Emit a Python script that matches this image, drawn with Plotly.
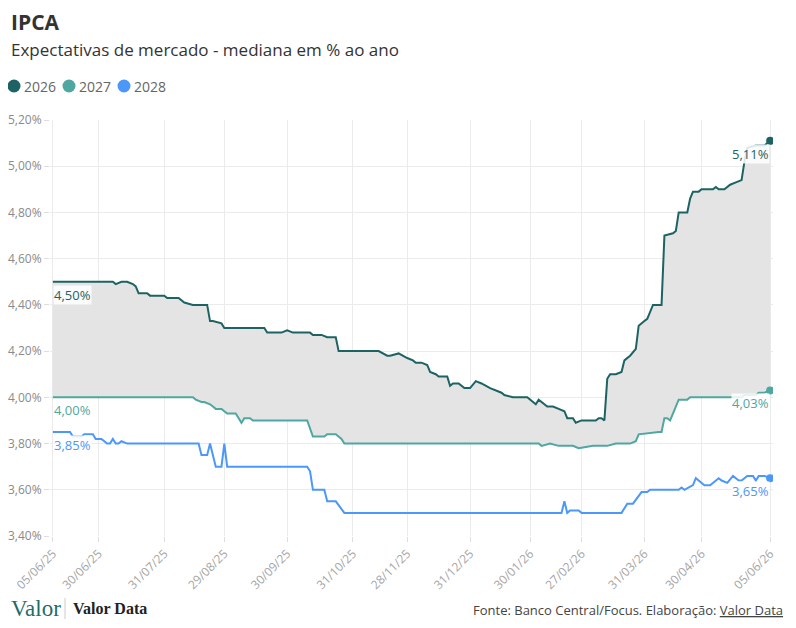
import datetime as dt
import plotly.graph_objects as go

# --- dados (mediana Focus, % a.a.) ---
D2026 = ["2025-06-05", "2025-07-07", "2025-07-08", "2025-07-10", "2025-07-14", "2025-07-16", "2025-07-17",
         "2025-07-18", "2025-07-23", "2025-07-24", "2025-07-30", "2025-07-31", "2025-08-01", "2025-08-07",
         "2025-08-11", "2025-08-14", "2025-08-21", "2025-08-22", "2025-08-25", "2025-08-28", "2025-08-29",
         "2025-09-18", "2025-09-19", "2025-09-26", "2025-09-30", "2025-10-02", "2025-10-10", "2025-10-13",
         "2025-10-16", "2025-10-20", "2025-10-23", "2025-10-24", "2025-11-13", "2025-11-18", "2025-11-19",
         "2025-11-25", "2025-11-28", "2025-12-02", "2025-12-03", "2025-12-05", "2025-12-09", "2025-12-10",
         "2025-12-12", "2025-12-15", "2025-12-18", "2025-12-19", "2025-12-22", "2025-12-24", "2025-12-29",
         "2025-12-31", "2026-01-05", "2026-01-07", "2026-01-12", "2026-01-14", "2026-01-16", "2026-01-19",
         "2026-01-22", "2026-01-29", "2026-02-02", "2026-02-03", "2026-02-04", "2026-02-09", "2026-02-10",
         "2026-02-11", "2026-02-13", "2026-02-19", "2026-02-20", "2026-02-24", "2026-02-25", "2026-02-27",
         "2026-03-06", "2026-03-09", "2026-03-10", "2026-03-11", "2026-03-12", "2026-03-13", "2026-03-17",
         "2026-03-19", "2026-03-20", "2026-03-24", "2026-03-26", "2026-03-27", "2026-03-31", "2026-04-01",
         "2026-04-06", "2026-04-09", "2026-04-10", "2026-04-15", "2026-04-16", "2026-04-17", "2026-04-23",
         "2026-04-24", "2026-04-27", "2026-04-29", "2026-04-30", "2026-05-07", "2026-05-08", "2026-05-11",
         "2026-05-13", "2026-05-15", "2026-05-19", "2026-05-21", "2026-05-22", "2026-05-25", "2026-05-28",
         "2026-06-02", "2026-06-05"]
V2026 = [4.50, 4.50, 4.49, 4.50, 4.50, 4.49, 4.48,
         4.45, 4.45, 4.44, 4.44, 4.44, 4.43, 4.43,
         4.41, 4.40, 4.40, 4.33, 4.33, 4.32, 4.30,
         4.30, 4.28, 4.28, 4.29, 4.28, 4.28, 4.27,
         4.27, 4.26, 4.26, 4.20, 4.20, 4.18, 4.18,
         4.19, 4.17, 4.16, 4.15, 4.15, 4.14, 4.11,
         4.10, 4.09, 4.09, 4.05, 4.06, 4.06, 4.04,
         4.04, 4.07, 4.06, 4.04, 4.03, 4.02, 4.01,
         4.00, 4.00, 3.98, 3.97, 3.99, 3.96, 3.96,
         3.96, 3.95, 3.94, 3.91, 3.91, 3.89, 3.90,
         3.90, 3.91, 3.91, 3.90, 4.08, 4.10, 4.10,
         4.11, 4.16, 4.18, 4.21, 4.31, 4.33, 4.34,
         4.40, 4.40, 4.70, 4.71, 4.72, 4.80, 4.80,
         4.86, 4.89, 4.89, 4.90, 4.90, 4.91, 4.90,
         4.90, 4.92, 4.93, 4.94, 5.02, 5.08, 5.09,
         5.09, 5.11]

D2027 = ["2025-06-05", "2025-08-14", "2025-08-15", "2025-08-19", "2025-08-20", "2025-08-22", "2025-08-25",
         "2025-08-26", "2025-08-28", "2025-09-01", "2025-09-04", "2025-09-08", "2025-09-09", "2025-09-11",
         "2025-09-12", "2025-10-09", "2025-10-13", "2025-10-17", "2025-10-20", "2025-10-23", "2025-10-27",
         "2025-10-28", "2026-02-04", "2026-02-05", "2026-02-10", "2026-02-13", "2026-02-24", "2026-02-26",
         "2026-03-05", "2026-03-12", "2026-03-17", "2026-03-24", "2026-03-26", "2026-03-27", "2026-04-08",
         "2026-04-09", "2026-04-10", "2026-04-13", "2026-04-14", "2026-04-15", "2026-04-17", "2026-04-23",
         "2026-04-24", "2026-05-21", "2026-05-22", "2026-05-28", "2026-05-29", "2026-06-02", "2026-06-05"]
V2027 = [4.00, 4.00, 3.99, 3.98, 3.98, 3.97, 3.96,
         3.95, 3.95, 3.93, 3.93, 3.89, 3.91, 3.91,
         3.90, 3.90, 3.83, 3.83, 3.84, 3.84, 3.82,
         3.80, 3.80, 3.79, 3.80, 3.79, 3.79, 3.78,
         3.79, 3.79, 3.80, 3.80, 3.81, 3.84, 3.85,
         3.85, 3.91, 3.91, 3.90, 3.93, 3.99, 3.99,
         4.00, 4.00, 4.01, 4.01, 4.02, 4.02, 4.03]

D2028 = ["2025-06-05", "2025-06-13", "2025-06-16", "2025-06-20", "2025-06-23", "2025-06-26", "2025-06-27",
         "2025-07-01", "2025-07-03", "2025-07-04", "2025-07-07", "2025-07-08", "2025-07-09", "2025-07-10",
         "2025-07-14", "2025-08-18", "2025-08-19", "2025-08-21", "2025-08-22", "2025-08-26", "2025-08-28",
         "2025-08-29", "2025-09-01", "2025-10-09", "2025-10-10", "2025-10-13", "2025-10-17", "2025-10-20",
         "2025-10-23", "2025-10-28", "2026-02-18", "2026-02-19", "2026-02-20", "2026-02-23", "2026-02-26",
         "2026-02-27", "2026-03-19", "2026-03-23", "2026-03-25", "2026-03-30", "2026-04-01", "2026-04-02",
         "2026-04-17", "2026-04-20", "2026-04-22", "2026-04-27", "2026-04-28", "2026-04-29", "2026-05-04",
         "2026-05-06", "2026-05-07", "2026-05-11", "2026-05-12", "2026-05-14", "2026-05-18", "2026-05-20",
         "2026-05-21", "2026-05-25", "2026-05-27", "2026-05-28", "2026-05-29", "2026-06-02", "2026-06-05"]
V2028 = [3.85, 3.85, 3.83, 3.83, 3.84, 3.84, 3.82,
         3.82, 3.80, 3.80, 3.82, 3.80, 3.80, 3.81,
         3.80, 3.80, 3.75, 3.75, 3.80, 3.70, 3.70,
         3.80, 3.70, 3.70, 3.68, 3.60, 3.60, 3.55,
         3.55, 3.50, 3.50, 3.55, 3.50, 3.51, 3.51,
         3.50, 3.50, 3.54, 3.54, 3.59, 3.59, 3.60,
         3.60, 3.61, 3.60, 3.62, 3.65, 3.64, 3.62,
         3.62, 3.63, 3.65, 3.64, 3.63, 3.66, 3.64,
         3.64, 3.66, 3.66, 3.64, 3.66, 3.66, 3.65]

# feriados sem dado (eixo so com dias uteis)
HOLIDAYS = ["2025-06-19", "2025-11-20", "2025-12-25", "2026-01-01", "2026-02-16", "2026-02-17",
            "2026-04-03", "2026-04-21", "2026-05-01", "2026-06-04"]

TICK_DATES = ["2025-06-05", "2025-06-30", "2025-07-31", "2025-08-29", "2025-09-30", "2025-10-31",
              "2025-11-28", "2025-12-31", "2026-01-30", "2026-02-27", "2026-03-31", "2026-04-30",
              "2026-06-05"]

SERIES_NAMES = ["2026", "2027", "2028"]

assert len(D2026) == len(V2026) and len(D2027) == len(V2027) and len(D2028) == len(V2028)

C2026 = "#1d6363"
C2027 = "#4ea7a1"
C2028 = "#4c97fa"
FILL = "#e4e4e4"
FONT = "Open Sans"


def pct(v):
    return f"{v:.2f}".replace(".", ",") + "%"


# page pixels -> paper coords (plot area on the page: left 50, right 773, top 120, bottom 536;
# the page itself has an 8px body margin, hence the figure margins below)
def px(x, y):
    return (x - 50) / 723, (536 - y) / 416


fig = go.Figure()

fig.add_trace(go.Scatter(x=D2027, y=V2027, mode="lines", line=dict(color=C2027, width=2),
                         showlegend=False, hoverinfo="skip"))
fig.add_trace(go.Scatter(x=D2026, y=V2026, mode="lines", line=dict(color=C2026, width=2),
                         fill="tonexty", fillcolor=FILL, showlegend=False, hoverinfo="skip"))
fig.add_trace(go.Scatter(x=D2028, y=V2028, mode="lines", line=dict(color=C2028, width=2),
                         showlegend=False, hoverinfo="skip"))

# ponto final de cada serie
for d, v, c in [(D2026, V2026, C2026), (D2027, V2027, C2027), (D2028, V2028, C2028)]:
    fig.add_trace(go.Scatter(x=[d[-1]], y=[v[-1]], mode="markers",
                             marker=dict(color=c, size=8), showlegend=False, hoverinfo="skip"))

    # rotulos de inicio e fim
    fig.add_annotation(x=d[0], y=v[0], text=pct(v[0]), showarrow=False, xanchor="left", yanchor="top",
                       yshift=-3, font=dict(family=FONT, size=13, color=c),
                       bgcolor="rgba(255,255,255,0.85)", borderpad=0)
    fig.add_annotation(x=d[-1], y=v[-1], text=pct(v[-1]), showarrow=False, xanchor="right", yanchor="top",
                       yshift=-3, font=dict(family=FONT, size=13, color=c),
                       bgcolor="rgba(255,255,255,0.85)", borderpad=0)

tick_text = [dt.date.fromisoformat(t).strftime("%d/%m/%y") for t in TICK_DATES]

fig.update_xaxes(
    type="date",
    range=["2025-06-04", "2026-06-06"],
    rangebreaks=[dict(bounds=["sat", "mon"]), dict(values=HOLIDAYS)],
    tickvals=TICK_DATES, ticktext=tick_text, tickangle=-45,
    tickfont=dict(family=FONT, size=12, color="#a5a5a5"),
    showgrid=True, gridcolor="#ebebeb", gridwidth=1,
    ticks="outside", ticklen=5, tickcolor="#dddddd",
    showline=False, zeroline=False, automargin=False,
)
fig.update_yaxes(
    range=[3.4, 5.2], dtick=0.2, tickformat=".2f", ticksuffix="%",
    tickfont=dict(family=FONT, size=12, color="#8a8a8a"),
    showgrid=True, gridcolor="#ebebeb", gridwidth=1,
    ticks="outside", ticklen=5, tickcolor="#dddddd",
    showline=False, zeroline=False, automargin=False,
)

# titulo, subtitulo, rodape
texts = [
    (9, 22, "<b>IPCA</b>", 21, "#333333", FONT, "left"),
    (9, 49, "Expectativas de mercado - mediana em % ao ano", 17, "#333333", FONT, "left"),
    (785, 610, "Fonte: Banco Central/Focus. Elaboração: "
               "<span style='text-decoration:underline'>Valor Data</span>", 13, "#444444", FONT, "right"),
    (9, 608, "Valor", 23, "#1f6c6c", "Liberation Serif", "left"),
    (71, 608, "<b>Valor Data</b>", 16, "#222222", "Liberation Serif", "left"),
]
for x, y, t, s, c, f, anchor in texts:
    ax, ay = px(x, y)
    fig.add_annotation(x=ax, y=ay, xref="paper", yref="paper", text=t, showarrow=False,
                       xanchor=anchor, yanchor="middle", font=dict(family=f, size=s, color=c))

# legenda: circulos + texto
legend_x = [14, 69, 124]
for n, c, lxp in zip(SERIES_NAMES, [C2026, C2027, C2028], legend_x):
    cx, cy = px(lxp, 86)
    fig.add_shape(type="circle", xref="paper", yref="paper", xsizemode="pixel", ysizemode="pixel",
                  xanchor=cx, yanchor=cy, x0=-6.5, x1=6.5, y0=-6.5, y1=6.5,
                  fillcolor=c, line=dict(width=0))
    tx, ty = px(lxp + 8, 86)
    fig.add_annotation(x=tx, y=ty, xref="paper", yref="paper", text=n, showarrow=False,
                       xanchor="left", yanchor="middle", font=dict(family=FONT, size=14, color="#666666"))

# separador do logo
sx0, sy0 = px(65, 598)
sx1, sy1 = px(65, 619)
fig.add_shape(type="line", xref="paper", yref="paper", x0=sx0, x1=sx1, y0=sy0, y1=sy1,
              line=dict(color="#cccccc", width=1))

fig.update_layout(
    width=788, height=620,
    margin=dict(l=42, r=23, t=112, b=92),
    paper_bgcolor="white", plot_bgcolor="white",
    separators=",.",
    font=dict(family=FONT),
    showlegend=False,
)

fig.write_html("out.html")
